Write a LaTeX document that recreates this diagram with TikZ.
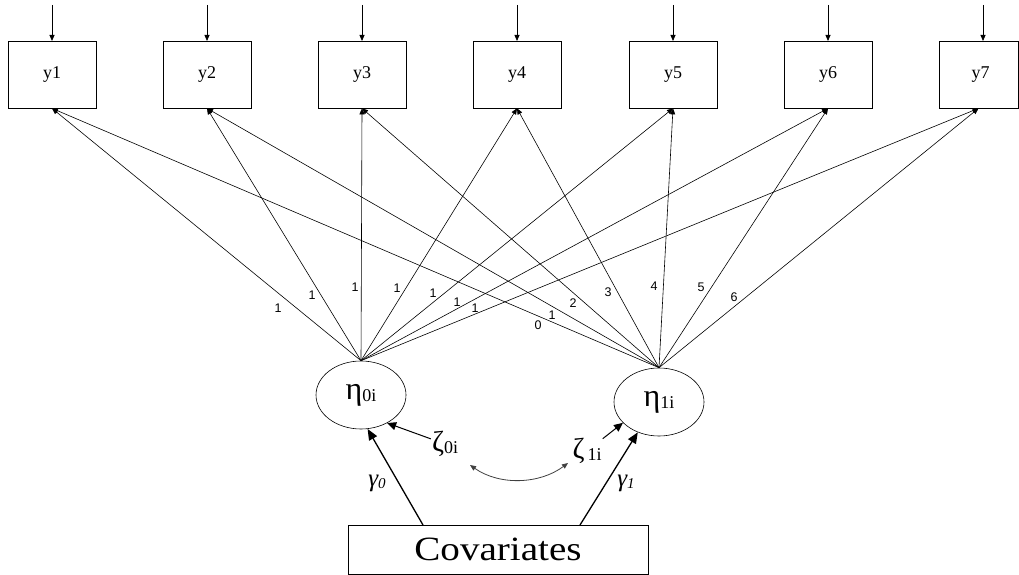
\documentclass[tikz,border=0pt]{standalone}
\usepackage{fontspec}
\setmainfont{Liberation Serif}
\newfontfamily\lblfont{Liberation Sans}
\usetikzlibrary{arrows.meta,shapes.geometric}
\newcommand{\grk}[4]{{\fontsize{#1}{#1}\selectfont #2}\raisebox{-0.2em}{\fontsize{#3}{#3}\selectfont #4}}
\begin{document}
\begin{tikzpicture}[x=1pt,y=-1pt,
  obs/.style={draw,line width=0.7pt,minimum width=88pt,minimum height=67pt,inner sep=0pt,font=\fontsize{18}{20}\selectfont},
  lat/.style={draw,line width=0.6pt,ellipse,minimum width=90pt,minimum height=68pt,inner sep=0pt},
  load/.style={line width=0.6pt,-{Triangle[length=6pt,width=5pt]}},
  err/.style={line width=0.8pt,-{Triangle[length=6pt,width=5pt]}},
  reg/.style={line width=1.3pt,-{Triangle[length=11pt,width=9pt]}},
  lab/.style={font=\lblfont\fontsize{12.5}{14}\selectfont,inner sep=0pt},
  gr/.style={inner sep=1pt}
]
\useasboundingbox (0,0) rectangle (1019,575);
% observed
\node[obs] (y1) at (52,74.5) {y1};
\node[obs] (y2) at (207,74.5) {y2};
\node[obs] (y3) at (362,74.5) {y3};
\node[obs] (y4) at (517,74.5) {y4};
\node[obs] (y5) at (673,74.5) {y5};
\node[obs] (y6) at (828,74.5) {y6};
\node[obs,minimum width=79pt] (y7) at (978.5,74.5) {\hspace*{4pt}y7};
% error arrows
\foreach \i/\x in {1/52,2/207,3/362,4/517,5/673,6/828,7/983}{
  \coordinate (t\i) at (\x,5);
  \draw[err] (t\i) -- (\x,41);
}
% latent
\node[lat] (eta0) at (361,395) {\grk{32}{η}{18}{0i}};
\node[lat] (eta1) at (659,402) {\grk{32}{η}{18}{1i}};
% loadings
\foreach \i in {1,...,7}{
  \draw[load] (eta0.north) -- (y\i.south);
  \draw[load] (eta1.north) -- (y\i.south);
}
% loading labels
\foreach \p in {(278,308),(312,295),(355,287),(397,288),(433,293),(457,302),(475,308)}{
  \node[lab] at \p {1};
}
\node[lab] at (538,325) {0};
\node[lab] at (552,315) {1};
\node[lab] at (573,303) {2};
\node[lab] at (608,292) {3};
\node[lab] at (654,286) {4};
\node[lab] at (701,287) {5};
\node[lab] at (734,297) {6};
% covariates
\node[draw,line width=0.7pt,minimum width=300pt,minimum height=49pt,inner sep=0pt,font=\fontsize{34}{40}\selectfont] (cov) at (498,549.5) {\scalebox{1.15}[1]{Covariates}};
\coordinate (c0) at (423,525);
\coordinate (c1) at (580,525);
\draw[reg] (c0) -- (eta0.-79);
\draw[reg] (c1) -- (eta1.-125);
\node[gr] at (377,483) {\itshape\grk{25}{γ}{15}{0}};
\node[gr] at (626,483) {\itshape\grk{25}{γ}{15}{1}};
% disturbances
\node[gr] (zeta0) at (445,444) {\grk{29}{ζ}{18}{0i}};
\node[gr] (zeta1) at (587,451) {\grk{29}{ζ}{18}{\,1i}};
\draw[line width=1pt,-{Triangle[length=9pt,width=8pt]}] (zeta0) -- (eta0.-47);
\draw[line width=1pt,-{Triangle[length=9pt,width=8pt]}] (zeta1) -- (eta1.-150);
\coordinate (za) at (470,465);
\coordinate (zb) at (568,463);
\draw[line width=0.8pt,draw=black!75,{Triangle[length=6pt,width=5pt]}-{Triangle[length=6pt,width=5pt]}] (za) .. controls (500,486) and (540,484) .. (zb);
\end{tikzpicture}
\end{document}
